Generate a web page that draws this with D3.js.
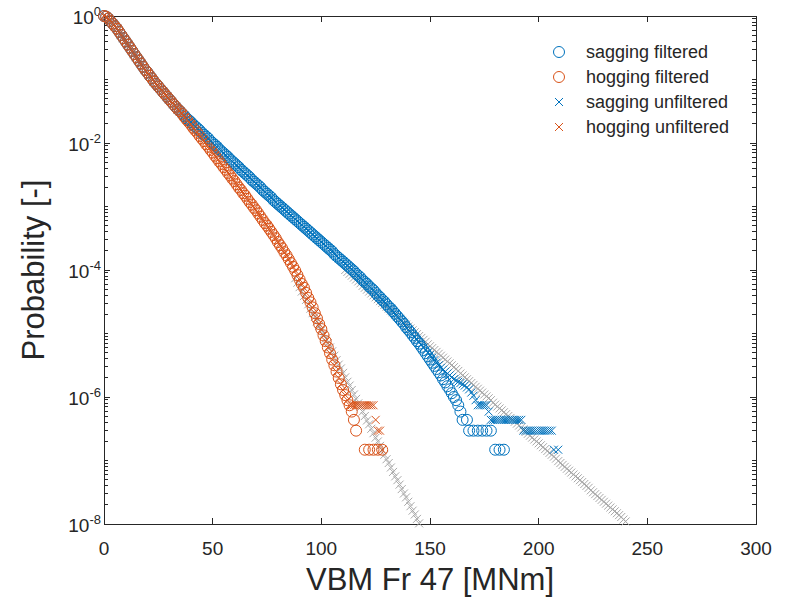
<!DOCTYPE html>
<html>
<head>
<meta charset="utf-8">
<script src="https://cdn.jsdelivr.net/npm/d3@7"></script>
<style>
  body { margin: 0; background: #fff; }
  svg { display: block; }
  text { font-family: "Liberation Sans", Arial, Helvetica, sans-serif; fill: #262626; }
</style>
</head>
<body>
<div id="chart"></div>
<script>
// exceedance probability of VBM peaks, log10(P) per 1 MNm bin
// both loads lie on top of each other up to 35 MNm (x = 0..35)
const commonLogP = [0, -0.01, -0.04, -0.08, -0.12, -0.16, -0.20, -0.25, -0.30, -0.35,
  -0.40, -0.45, -0.50, -0.55, -0.60, -0.65, -0.70, -0.75, -0.80, -0.85,
  -0.89, -0.94, -0.98, -1.03, -1.07, -1.11, -1.15, -1.19, -1.23, -1.27,
  -1.31, -1.35, -1.39, -1.43, -1.47, -1.50];

// sagging filtered, x = 36..164
const sagFiltLogP = [-1.54, -1.57, -1.61, -1.64, -1.67, -1.71, -1.74, -1.77, -1.80, -1.84,
  -1.87, -1.90, -1.93, -1.97, -2.00,
  -2.03, -2.06, -2.10, -2.13, -2.16, -2.19, -2.22, -2.26, -2.29, -2.32,
  -2.35, -2.38, -2.42, -2.45, -2.48, -2.51, -2.54, -2.58, -2.61, -2.64,
  -2.67, -2.70, -2.74, -2.77, -2.80, -2.83, -2.86, -2.90, -2.93, -2.96,
  -2.99, -3.02, -3.05, -3.08, -3.11, -3.14, -3.17, -3.20, -3.23, -3.26,
  -3.29, -3.32, -3.35, -3.38, -3.41, -3.44, -3.47, -3.50, -3.53, -3.56,
  -3.59, -3.62, -3.65, -3.68, -3.71, -3.75, -3.78, -3.81, -3.84, -3.87,
  -3.90, -3.93, -3.96, -3.99, -4.02, -4.06, -4.09, -4.12, -4.16, -4.19,
  -4.22, -4.26, -4.29, -4.32, -4.36, -4.40, -4.43, -4.47, -4.50, -4.54,
  -4.58, -4.61, -4.65, -4.69, -4.73, -4.77, -4.81, -4.85, -4.90, -4.94,
  -4.98, -5.03, -5.07, -5.12, -5.16, -5.21, -5.26, -5.31, -5.36, -5.41,
  -5.46, -5.51, -5.56, -5.61, -5.66, -5.72, -5.77, -5.83, -5.88, -5.94,
  -6.00, -6.05, -6.13, -6.23];

// hogging filtered, x = 36..116
const hogFiltLogP = [-1.54, -1.59, -1.63, -1.67, -1.71, -1.76, -1.80, -1.84, -1.89, -1.93,
  -1.97, -2.02, -2.06, -2.11, -2.15,
  -2.20, -2.24, -2.29, -2.33, -2.38, -2.42, -2.47, -2.51, -2.56, -2.60,
  -2.65, -2.70, -2.74, -2.79, -2.83, -2.88, -2.93, -2.97, -3.02, -3.06,
  -3.11, -3.16, -3.21, -3.26, -3.30, -3.35, -3.40, -3.45, -3.50, -3.56,
  -3.61, -3.66, -3.72, -3.77, -3.83, -3.89, -3.95, -4.01, -4.08, -4.15,
  -4.22, -4.28, -4.36, -4.44, -4.51, -4.59, -4.68, -4.76, -4.85, -4.93,
  -5.03, -5.12, -5.22, -5.31, -5.41, -5.50, -5.60, -5.70, -5.80, -5.89,
  -5.97, -6.05, -6.13, -6.23, -6.36, -6.53];

// sagging unfiltered where it leaves the filtered curve, x = 141..171
const sagUnfiltLogP = [-4.98, -5.02, -5.06, -5.10, -5.14, -5.18, -5.22, -5.26, -5.30, -5.34,
  -5.38, -5.42, -5.46, -5.50, -5.54, -5.57, -5.60, -5.63, -5.66, -5.69,
  -5.72, -5.74, -5.76, -5.78, -5.80, -5.82, -5.85, -5.88, -5.93, -5.98, -6.05];

// last few exceedances (k/N levels)
const sagFiltRows = [
  { lp: -6.36, x: [165, 167] },
  { lp: -6.53, x: [168, 170, 172, 174, 176, 178] },
  { lp: -6.83, x: [180, 182, 184] },
];
const hogFiltRows = [
  { lp: -6.83, x: [120, 122, 124, 126, 128] },
];
const sagUnfiltRows = [
  { lp: -6.13, x: [172, 173, 174, 175, 176] },
  { lp: -6.23, x: [177] },
  { lp: -6.36, x: [178, 179, 180, 181, 182, 183, 184, 185, 186, 187, 188, 189, 190, 191, 192] },
  { lp: -6.53, x: [193, 194, 195, 196, 197, 198, 199, 200, 201, 202, 203, 204, 205, 206] },
  { lp: -6.83, x: [207, 209] },
];
const hogUnfiltRows = [
  { lp: -6.13, x: [113, 114, 115, 116, 117, 118, 119, 120, 121, 122, 123, 124] },
  { lp: -6.36, x: [125] },
  { lp: -6.53, x: [126, 127] },
  { lp: -6.83, x: [128] },
];

// tail fits (grey), x = 111..240 and x = 88..145
const sagFitLogP = [-4.00, -4.03, -4.06, -4.09, -4.12, -4.15, -4.18, -4.21, -4.25, -4.28,
  -4.31, -4.34, -4.37, -4.40, -4.43, -4.46, -4.49, -4.52, -4.55, -4.58,
  -4.61, -4.64, -4.67, -4.71, -4.74, -4.77, -4.80, -4.83, -4.86, -4.89,
  -4.92, -4.95, -4.98, -5.01, -5.04, -5.07, -5.10, -5.13, -5.17, -5.20,
  -5.23, -5.26, -5.29, -5.32, -5.35, -5.38, -5.41, -5.44, -5.47, -5.50,
  -5.53, -5.56, -5.59, -5.63, -5.66, -5.69, -5.72, -5.75, -5.78, -5.81,
  -5.84, -5.87, -5.90, -5.93, -5.96, -5.99, -6.02, -6.05, -6.09, -6.12,
  -6.15, -6.18, -6.21, -6.24, -6.27, -6.30, -6.33, -6.36, -6.39, -6.42,
  -6.45, -6.48, -6.51, -6.55, -6.58, -6.61, -6.64, -6.67, -6.70, -6.73,
  -6.76, -6.79, -6.82, -6.85, -6.88, -6.91, -6.94, -6.97, -7.01, -7.04,
  -7.07, -7.10, -7.13, -7.16, -7.19, -7.22, -7.25, -7.28, -7.31, -7.34,
  -7.37, -7.40, -7.43, -7.47, -7.50, -7.53, -7.56, -7.59, -7.62, -7.65,
  -7.68, -7.71, -7.74, -7.77, -7.80, -7.83, -7.86, -7.89, -7.93, -7.96];
const hogFitLogP = [-4.13, -4.20, -4.27, -4.34, -4.41, -4.47, -4.54, -4.61, -4.68, -4.74,
  -4.81, -4.88, -4.95, -5.01, -5.08, -5.15, -5.22, -5.28, -5.35, -5.42,
  -5.49, -5.55, -5.62, -5.69, -5.76, -5.82, -5.89, -5.96, -6.03, -6.10,
  -6.16, -6.23, -6.30, -6.37, -6.43, -6.50, -6.57, -6.64, -6.70, -6.77,
  -6.84, -6.91, -6.98, -7.04, -7.11, -7.18, -7.25, -7.31, -7.38, -7.45,
  -7.52, -7.58, -7.65, -7.72, -7.79, -7.85, -7.92, -7.99];

const xTicks = [0, 50, 100, 150, 200, 250, 300];
const yTickExps = [0, -2, -4, -6, -8];
const legendLabels = ["sagging filtered", "hogging filtered", "sagging unfiltered", "hogging unfiltered"];

const C = { blue: "#0072BD", orange: "#D95319", grey: "#a8a8a8", axis: "#262626" };

// build point lists
const seq = (arr, x0) => arr.map((lp, i) => ({ x: x0 + i, lp }));
const rows = (rs) => rs.flatMap((r) => r.x.map((x) => ({ x, lp: r.lp })));

const sagBody = seq(commonLogP.concat(sagFiltLogP), 0);
const hogBody = seq(commonLogP.concat(hogFiltLogP), 0);
const sagF = sagBody.concat(rows(sagFiltRows));
const hogF = hogBody.concat(rows(hogFiltRows));
const sagU = sagBody.filter((d) => d.x <= 140).concat(seq(sagUnfiltLogP, 141), rows(sagUnfiltRows));
const hogU = hogBody.filter((d) => d.x <= 112).concat(rows(hogUnfiltRows));
const sagFit = seq(sagFitLogP, 111);
const hogFit = seq(hogFitLogP, 88);

const W = 786, H = 600,
  M = { t: 16, r: 30, b: 76, l: 104 };

const svg = d3.select("#chart").append("svg").attr("width", W).attr("height", H);

const x = d3.scaleLinear().domain([0, 300]).range([M.l, W - M.r]);
const y = d3.scaleLog().domain([1e-8, 1]).range([H - M.b, M.t]);
const y0 = H - M.b, x1 = W - M.r;

// box + ticks (pointing inward)
const axes = svg.append("g");
axes.append("rect")
  .attr("x", M.l).attr("y", M.t)
  .attr("width", x1 - M.l).attr("height", y0 - M.t)
  .attr("fill", "none").attr("stroke", C.axis).attr("stroke-width", 1)
  .attr("shape-rendering", "crispEdges");

xTicks.forEach((t) => {
  axes.append("line").attr("x1", x(t)).attr("x2", x(t)).attr("y1", y0).attr("y2", y0 - 6);
  axes.append("line").attr("x1", x(t)).attr("x2", x(t)).attr("y1", M.t).attr("y2", M.t + 6);
});
y.ticks().forEach((t) => {
  const e = Math.log10(t);
  const len = yTickExps.some((k) => Math.abs(k - e) < 1e-9) ? 6 : 4;
  axes.append("line").attr("x1", M.l).attr("x2", M.l + len).attr("y1", y(t)).attr("y2", y(t));
  axes.append("line").attr("x1", x1).attr("x2", x1 - len).attr("y1", y(t)).attr("y2", y(t));
});
axes.selectAll("line").attr("stroke", C.axis).attr("stroke-width", 1)
  .attr("shape-rendering", "crispEdges");

// tick labels
svg.append("g").selectAll("text").data(xTicks).enter().append("text")
  .attr("x", (d) => x(d)).attr("y", y0 + 31)
  .attr("text-anchor", "middle").attr("font-size", 19)
  .text((d) => d);

const yl = svg.append("g").selectAll("text").data(yTickExps).enter().append("text")
  .attr("x", M.l - 3).attr("y", (d) => y(Math.pow(10, d)) + 8)
  .attr("text-anchor", "end").attr("font-size", 19);
yl.append("tspan").text("10");
yl.append("tspan").attr("dy", -8).attr("font-size", 13).text((d) => d);

// axis titles
svg.append("text").attr("x", (M.l + x1) / 2).attr("y", 590)
  .attr("text-anchor", "middle").attr("font-size", 31).text("VBM Fr 47 [MNm]");
svg.append("text")
  .attr("transform", `translate(44,${(M.t + y0) / 2}) rotate(-90)`)
  .attr("text-anchor", "middle").attr("font-size", 31).text("Probability [-]");

// markers
const cross = "M-4,-4L4,4M-4,4L4,-4";
const plot = svg.append("g");

function crosses(data, color) {
  plot.append("g").selectAll("path").data(data).enter().append("path")
    .attr("d", cross)
    .attr("transform", (d) => `translate(${x(d.x)},${y(Math.pow(10, d.lp))})`)
    .attr("fill", "none").attr("stroke", color).attr("stroke-width", 1);
}
function circles(data, color) {
  plot.append("g").selectAll("circle").data(data).enter().append("circle")
    .attr("cx", (d) => x(d.x)).attr("cy", (d) => y(Math.pow(10, d.lp)))
    .attr("r", 5.5)
    .attr("fill", "none").attr("stroke", color).attr("stroke-width", 1);
}

crosses(sagFit, C.grey);
crosses(hogFit, C.grey);
circles(sagF, C.blue);
circles(hogF, C.orange);
crosses(sagU, C.blue);
crosses(hogU, C.orange);

// legend (no box)
const lg = svg.append("g");
const legendY = [52, 77, 102, 127];
legendLabels.forEach((lab, i) => {
  const color = i % 2 === 0 ? C.blue : C.orange;
  if (i < 2) {
    lg.append("circle").attr("cx", 559).attr("cy", legendY[i]).attr("r", 5.5)
      .attr("fill", "none").attr("stroke", color).attr("stroke-width", 1);
  } else {
    lg.append("path").attr("d", cross).attr("transform", `translate(559,${legendY[i]})`)
      .attr("fill", "none").attr("stroke", color).attr("stroke-width", 1);
  }
  lg.append("text").attr("x", 586).attr("y", legendY[i]).attr("dy", "0.35em")
    .attr("font-size", 18).text(lab);
});
</script>
</body>
</html>
